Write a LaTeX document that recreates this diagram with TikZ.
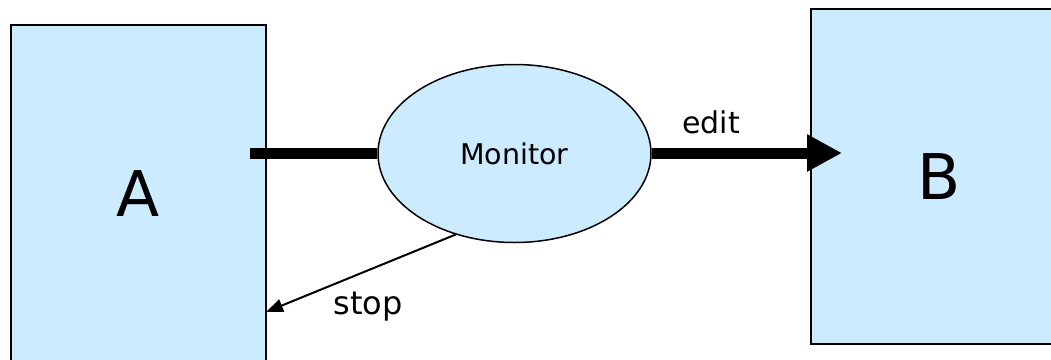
\documentclass[tikz,border=0pt]{standalone}
\usepackage{fontspec}
\setmainfont{DejaVu Sans}
\usetikzlibrary{shapes.geometric,arrows.meta}
\definecolor{boxfill}{HTML}{CCEBFF}
\tikzset{
  block/.style={draw=black, line width=2pt, fill=boxfill, rectangle, inner sep=0pt},
  monitorshape/.style={draw=black, line width=1.5pt, fill=boxfill, ellipse, inner sep=0pt,
    minimum width=273pt, minimum height=178pt},
  heavy/.style={line width=11pt},
  thin arrow/.style={line width=2pt, -{Triangle[length=17pt,width=13pt]}},
  lbl/.style={inner sep=0pt, anchor=base},
}
\begin{document}
\begin{tikzpicture}[x=1pt,y=-1pt]
  \useasboundingbox (0,0) rectangle (1051,359);
  \clip (0,0) rectangle (1051,359);
  % the two processes
  \node[block, minimum width=255pt, minimum height=337pt, font=\fontsize{63}{70}\selectfont]
    (A) at (138.5,193.5) {A};
  \node[block, minimum width=256pt, minimum height=335pt, font=\fontsize{63}{70}\selectfont]
    (B) at (939,176.5) {B};
  % monitor in between
  \node[monitorshape, font=\fontsize{28.5}{34}\selectfont] (mon) at (514.5,153.5) {Monitor};
  % heavy data path
  \coordinate (aout) at (250,153);
  \coordinate (bin) at (842,153);
  \draw[heavy] (aout) -- (aout -| mon.west);
  \draw[heavy, -{Triangle[length=35pt,width=35pt]}] (bin -| mon.east) -- (bin);
  % control signal back to A
  \coordinate (astop) at (266,312);
  \draw[thin arrow] (mon.234) -- (astop);
  % labels
  \node[lbl, font=\fontsize{30}{36}\selectfont] (edit) at (711,133) {edit};
  \node[lbl, font=\fontsize{32}{38}\selectfont] (stop) at (368,314) {stop};
\end{tikzpicture}
\end{document}
